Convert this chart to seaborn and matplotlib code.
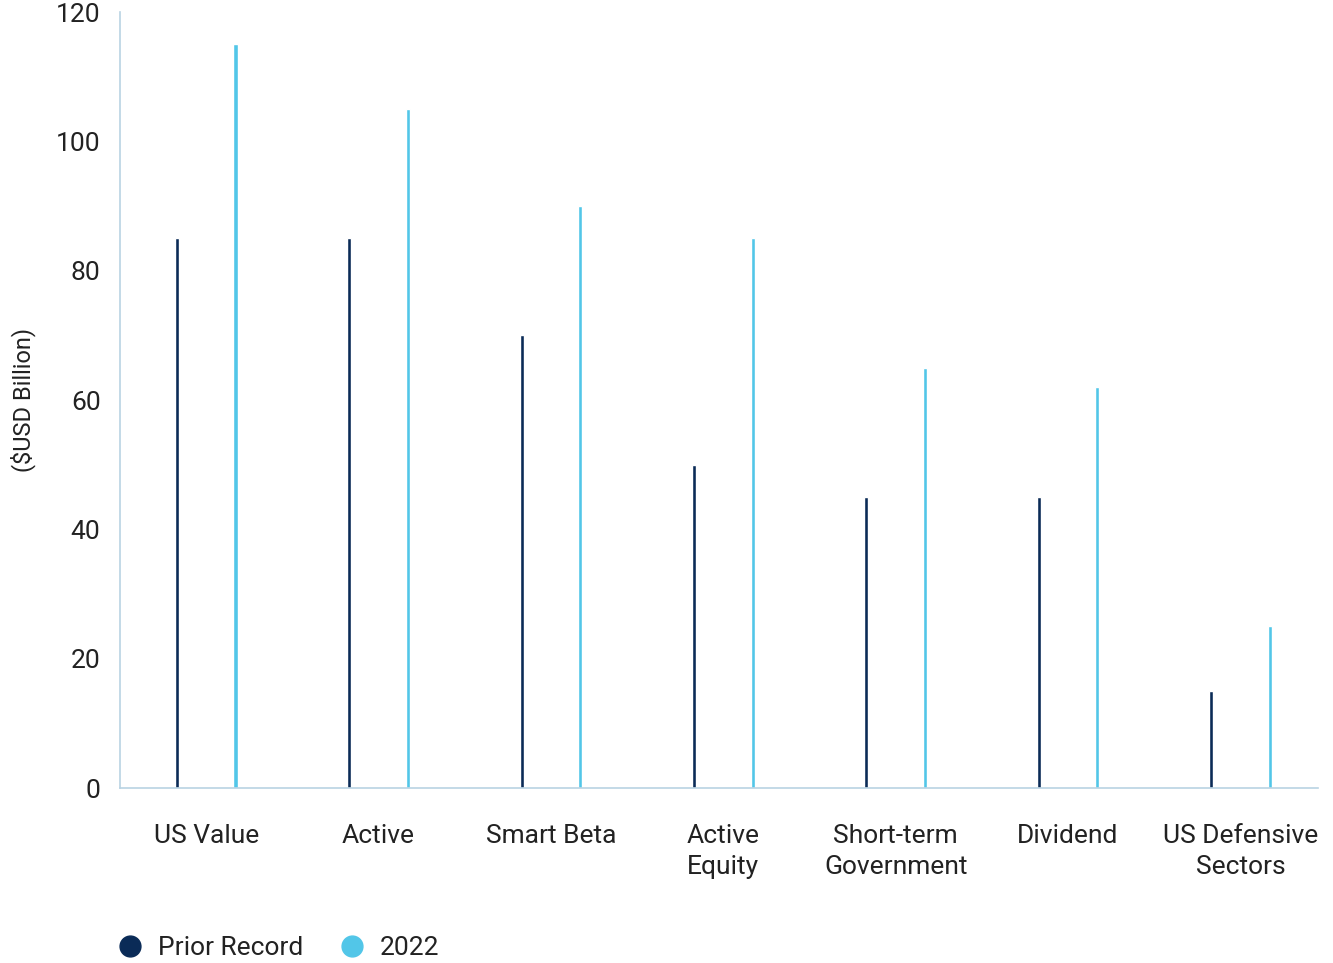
import matplotlib
matplotlib.use("Agg")
import matplotlib.pyplot as plt
from matplotlib.lines import Line2D
import seaborn as sns
import pandas as pd

categories = ["US Value", "Active", "Smart Beta", "Active\nEquity",
              "Short-term\nGovernment", "Dividend", "US Defensive\nSectors"]
prior_record = [85, 85, 70, 50, 45, 45, 15]
flows_2022 = [115, 105, 90, 85, 65, 62, 25]
series_names = ["Prior Record", "2022"]
y_ticks = [0, 20, 40, 60, 80, 100, 120]

NAVY = "#0a2b57"
LIGHT = "#52c6e8"
AXIS = "#b9d3e3"
TEXT = "#222222"

df = pd.DataFrame({
    "category": categories * 2,
    "series": [series_names[0]] * len(categories) + [series_names[1]] * len(categories),
    "value": prior_record + flows_2022,
})

sns.set_theme(style="white")
plt.rcParams["font.family"] = ["Roboto", "DejaVu Sans"]

fig = plt.figure(figsize=(13.33, 9.63), dpi=100)
ax = fig.add_axes([120 / 1333, 1 - 788 / 963, (1318 - 120) / 1333, (788 - 12) / 963])

sns.barplot(data=df, x="category", y="value", hue="series", order=categories,
            hue_order=series_names, palette=[NAVY, LIGHT], width=0.68, gap=0.93,
            dodge=True, legend=False, ax=ax, saturation=1)

ax.set_ylim(0, 120)
ax.set_xlim(-0.5, 6.45)
ax.set_yticks(y_ticks)
ax.set_yticklabels([str(t) for t in y_ticks])
ax.set_xlabel("")
ax.set_ylabel("($USD Billion)", fontsize=17, color=TEXT, labelpad=14)
ax.tick_params(axis="y", length=0, pad=14, labelsize=19, labelcolor=TEXT)
ax.tick_params(axis="x", length=0, pad=26, labelsize=19, labelcolor=TEXT)
for lbl in ax.get_xticklabels():
    lbl.set_linespacing(1.35)
    lbl.set_multialignment("center")

sns.despine(ax=ax)
for side in ["left", "bottom"]:
    ax.spines[side].set_color(AXIS)
    ax.spines[side].set_linewidth(1.2)

handles = [Line2D([], [], marker="o", linestyle="none", markersize=15,
                  markerfacecolor=c, markeredgecolor=c) for c in [NAVY, LIGHT]]
fig.legend(handles, series_names, loc="center left",
           bbox_to_anchor=(117 / 1333, 1 - 948 / 963), ncol=2, frameon=False,
           fontsize=19, labelcolor=TEXT, handletextpad=0.55, columnspacing=1.35,
           handlelength=1.0, borderaxespad=0, borderpad=0)

fig.savefig("out.png", dpi=100)
